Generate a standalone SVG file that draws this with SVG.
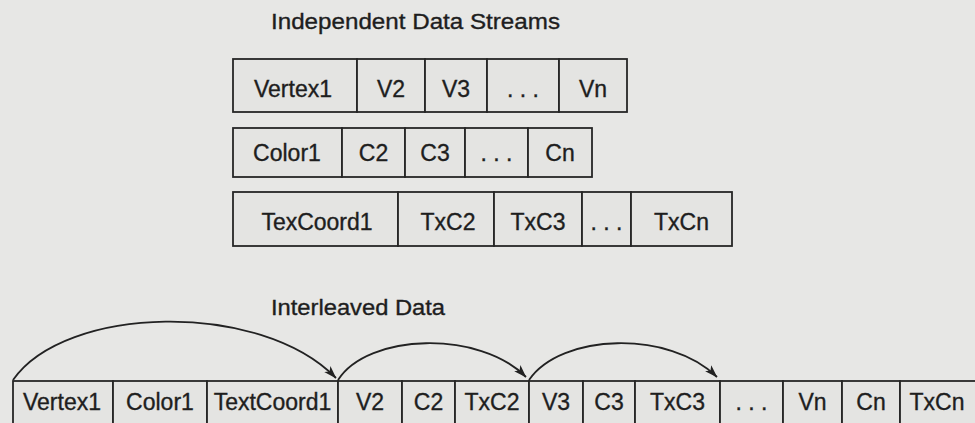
<svg xmlns="http://www.w3.org/2000/svg" width="975" height="423" viewBox="0 0 975 423">
<style>
  .bg { fill: #e7e7e5; }
  .cell { fill: #e4e4e2; stroke: #262626; stroke-width: 1.8; }
  .t { font-family: "Liberation Sans", Arial, sans-serif; font-size: 23px; fill: #1e1e1e; stroke: #1e1e1e; stroke-width: 0.35; text-anchor: middle; }
  .title { font-family: "Liberation Sans", Arial, sans-serif; font-size: 22px; fill: #1e1e1e; stroke: #1e1e1e; stroke-width: 0.35; }
  .arc { fill: none; stroke: #222; stroke-width: 1.8; marker-end: url(#ah); }
</style>
<defs>
  <marker id="ah" viewBox="0 0 12 10" refX="11.5" refY="5" markerWidth="13" markerHeight="11" markerUnits="userSpaceOnUse" orient="auto">
    <path d="M0,1 L12,5 L0,9 L3,5 Z" fill="#222"/>
  </marker>
</defs>
<rect class="bg" x="0" y="0" width="975" height="423"/>

<text id="title-independent" class="title" x="271" y="29" textLength="289" lengthAdjust="spacingAndGlyphs">Independent Data Streams</text>

<g id="row-vertex">
  <g id="v1"><rect class="cell" x="233" y="59" width="124" height="53"/><text class="t" x="293" y="97">Vertex1</text></g>
  <g id="v2"><rect class="cell" x="357" y="59" width="68" height="53"/><text class="t" x="391" y="97">V2</text></g>
  <g id="v3"><rect class="cell" x="425" y="59" width="62" height="53"/><text class="t" x="456" y="97">V3</text></g>
  <g id="vdots"><rect class="cell" x="487" y="59" width="72" height="53"/><text class="t" x="523" y="97">. . .</text></g>
  <g id="vn"><rect class="cell" x="559" y="59" width="68" height="53"/><text class="t" x="593" y="97">Vn</text></g>
</g>

<g id="row-color">
  <g id="c1"><rect class="cell" x="233" y="128" width="109" height="49"/><text class="t" x="287" y="161">Color1</text></g>
  <g id="c2"><rect class="cell" x="342" y="128" width="63" height="49"/><text class="t" x="373.5" y="161">C2</text></g>
  <g id="c3"><rect class="cell" x="405" y="128" width="60" height="49"/><text class="t" x="435" y="161">C3</text></g>
  <g id="cdots"><rect class="cell" x="465" y="128" width="63" height="49"/><text class="t" x="496.5" y="161">. . .</text></g>
  <g id="cn"><rect class="cell" x="528" y="128" width="64" height="49"/><text class="t" x="560" y="161">Cn</text></g>
</g>

<g id="row-texcoord">
  <g id="t1"><rect class="cell" x="233" y="192" width="165" height="54"/><text class="t" x="317" y="230">TexCoord1</text></g>
  <g id="t2"><rect class="cell" x="398" y="192" width="96" height="54"/><text class="t" x="448" y="230">TxC2</text></g>
  <g id="t3"><rect class="cell" x="494" y="192" width="88" height="54"/><text class="t" x="538" y="230">TxC3</text></g>
  <g id="tdots"><rect class="cell" x="582" y="192" width="49" height="54"/><text class="t" x="606.5" y="230">. . .</text></g>
  <g id="tn"><rect class="cell" x="631" y="192" width="101" height="54"/><text class="t" x="681.5" y="230">TxCn</text></g>
</g>

<text id="title-interleaved" class="title" x="271" y="315" textLength="174" lengthAdjust="spacingAndGlyphs">Interleaved Data</text>

<g id="row-interleaved">
  <g id="i-vertex1"><rect class="cell" x="13" y="381" width="100" height="60"/><text class="t" x="62" y="410">Vertex1</text></g>
  <g id="i-color1"><rect class="cell" x="113" y="381" width="94" height="60"/><text class="t" x="160" y="410">Color1</text></g>
  <g id="i-textcoord1"><rect class="cell" x="207" y="381" width="131" height="60"/><text class="t" x="272.5" y="410">TextCoord1</text></g>
  <g id="i-v2"><rect class="cell" x="338" y="381" width="64" height="60"/><text class="t" x="370" y="410">V2</text></g>
  <g id="i-c2"><rect class="cell" x="402" y="381" width="53" height="60"/><text class="t" x="428.5" y="410">C2</text></g>
  <g id="i-txc2"><rect class="cell" x="455" y="381" width="74" height="60"/><text class="t" x="492" y="410">TxC2</text></g>
  <g id="i-v3"><rect class="cell" x="529" y="381" width="54" height="60"/><text class="t" x="556" y="410">V3</text></g>
  <g id="i-c3"><rect class="cell" x="583" y="381" width="52" height="60"/><text class="t" x="609" y="410">C3</text></g>
  <g id="i-txc3"><rect class="cell" x="635" y="381" width="85" height="60"/><text class="t" x="677.5" y="410">TxC3</text></g>
  <g id="i-dots"><rect class="cell" x="720" y="381" width="63" height="60"/><text class="t" x="751.5" y="410">. . .</text></g>
  <g id="i-vn"><rect class="cell" x="783" y="381" width="59" height="60"/><text class="t" x="812.5" y="410">Vn</text></g>
  <g id="i-cn"><rect class="cell" x="842" y="381" width="58" height="60"/><text class="t" x="871" y="410">Cn</text></g>
  <g id="i-txcn"><rect class="cell" x="900" y="381" width="90" height="60"/><text class="t" x="937" y="410">TxCn</text></g>
</g>

<g id="connectors">
  <path class="arc" d="M13,380 C65,305 260,300 336,378"/>
  <path class="arc" d="M338,380 C368,333 480,330 526,377"/>
  <path class="arc" d="M529,380 C561,333 670,330 717,377"/>
</g>
</svg>
